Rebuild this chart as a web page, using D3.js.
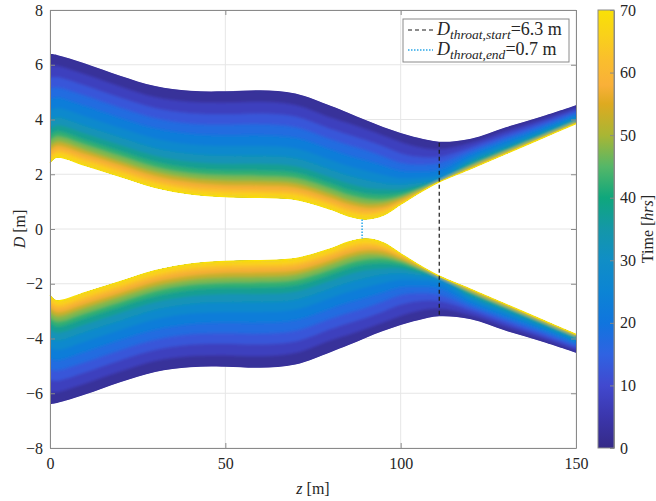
<!DOCTYPE html>
<html>
<head>
<meta charset="utf-8">
<script src="https://cdn.jsdelivr.net/npm/d3@7"></script>
<style>
  body { margin: 0; background: #fff; }
  text { font-family: "Liberation Serif", "Times New Roman", serif; fill: #262626; }
</style>
</head>
<body>
<div id="chart"></div>
<script>
// axial positions (m) where the profiles were read
var zNodes = [0, 2, 10, 20, 30, 40, 50, 60, 70, 80, 85, 90, 95, 100, 105, 111, 120, 130, 140, 150];

// time of each profile (hrs)
var times = [0, 5, 10, 15, 20, 25, 30, 35, 40, 45, 50, 55, 60, 65, 70];

// upper wall D (m) for each time, read along zNodes
var d0  = [6.40, 6.36, 6.05, 5.60, 5.22, 5.05, 5.03, 5.07, 4.95, 4.50, 4.25, 3.98, 3.73, 3.51, 3.33, 3.19, 3.30, 3.72, 4.10, 4.52];
var d5  = [5.96, 5.95, 5.64, 5.20, 4.81, 4.64, 4.61, 4.64, 4.52, 4.06, 3.86, 3.64, 3.41, 3.17, 2.99, 2.90, 3.14, 3.57, 3.98, 4.42];
var d10 = [5.52, 5.54, 5.23, 4.79, 4.41, 4.22, 4.18, 4.21, 4.10, 3.65, 3.44, 3.24, 3.01, 2.76, 2.63, 2.63, 2.98, 3.44, 3.87, 4.33];
var d15 = [5.13, 5.16, 4.86, 4.42, 4.04, 3.84, 3.80, 3.82, 3.71, 3.27, 3.06, 2.87, 2.64, 2.41, 2.34, 2.40, 2.85, 3.32, 3.77, 4.25];
var d20 = [4.73, 4.79, 4.48, 4.05, 3.67, 3.47, 3.41, 3.42, 3.32, 2.90, 2.68, 2.50, 2.31, 2.12, 2.09, 2.16, 2.73, 3.22, 3.68, 4.17];
var d25 = [4.33, 4.42, 4.11, 3.69, 3.30, 3.09, 3.03, 3.03, 2.94, 2.52, 2.30, 2.13, 1.97, 1.85, 1.86, 1.96, 2.61, 3.11, 3.60, 4.10];
var d30 = [3.97, 4.08, 3.77, 3.36, 2.96, 2.75, 2.68, 2.68, 2.59, 2.18, 1.96, 1.80, 1.67, 1.63, 1.70, 1.82, 2.50, 3.01, 3.52, 4.03];
var d35 = [3.65, 3.78, 3.48, 3.06, 2.67, 2.45, 2.37, 2.37, 2.28, 1.88, 1.66, 1.50, 1.44, 1.44, 1.57, 1.78, 2.41, 2.93, 3.45, 3.98];
var d40 = [3.42, 3.56, 3.25, 2.84, 2.45, 2.22, 2.14, 2.13, 2.05, 1.66, 1.43, 1.28, 1.24, 1.31, 1.49, 1.75, 2.34, 2.88, 3.40, 3.94];
var d45 = [3.22, 3.37, 3.07, 2.66, 2.26, 2.03, 1.95, 1.93, 1.85, 1.47, 1.24, 1.10, 1.07, 1.20, 1.43, 1.73, 2.30, 2.84, 3.37, 3.91];
var d50 = [3.02, 3.18, 2.88, 2.47, 2.08, 1.85, 1.76, 1.74, 1.66, 1.28, 1.05, 0.91, 0.94, 1.12, 1.38, 1.73, 2.27, 2.81, 3.35, 3.89];
var d55 = [2.86, 3.03, 2.73, 2.33, 1.93, 1.70, 1.60, 1.58, 1.51, 1.13, 0.90, 0.77, 0.80, 1.04, 1.35, 1.73, 2.24, 2.79, 3.33, 3.88];
var d60 = [2.70, 2.88, 2.58, 2.18, 1.78, 1.54, 1.45, 1.42, 1.35, 0.98, 0.75, 0.62, 0.70, 0.98, 1.32, 1.72, 2.22, 2.77, 3.32, 3.86];
var d65 = [2.56, 2.75, 2.45, 2.05, 1.65, 1.41, 1.31, 1.29, 1.22, 0.85, 0.61, 0.49, 0.60, 0.94, 1.31, 1.72, 2.21, 2.76, 3.31, 3.86];
var d70 = [2.42, 2.62, 2.32, 1.92, 1.52, 1.28, 1.18, 1.15, 1.08, 0.72, 0.48, 0.36, 0.50, 0.90, 1.30, 1.72, 2.20, 2.75, 3.30, 3.85];

var profiles = [d0, d5, d10, d15, d20, d25, d30, d35, d40, d45, d50, d55, d60, d65, d70];

// throat markers
var throatStartZ = 111, throatStartD = 6.3;
var throatEndZ = 89, throatEndD = 0.7;

var xTicks = [0, 50, 100, 150];
var yTicks = [-8, -6, -4, -2, 0, 2, 4, 6, 8];
var cTicks = [0, 10, 20, 30, 40, 50, 60, 70];

// colormap stops (time -> colour)
var cmapTimes  = [0, 5, 10, 15, 20, 25, 30, 35, 40, 45, 50, 55, 58, 62, 66, 70];
var cmapColors = ["#352a87", "#3b36ac", "#4149cf", "#2f63e2", "#1075de", "#0c84d4", "#108ec6",
                  "#1497a8", "#0fa77c", "#55b768", "#a9b634", "#deaa20", "#f9b039", "#fabe2d", "#f9d11a", "#f9e106"];

var svgWidth = 656;
var svgHeight = 501;
var margin = { top: 10, left: 50 };
var width = 526;
var height = 438;

var svg = d3.select("#chart")
  .append("svg")
  .attr("width", svgWidth)
  .attr("height", svgHeight);

var defs = svg.append("defs");

var chartGroup = svg.append("g")
  .attr("transform", `translate(${margin.left}, ${margin.top})`);

var xScale = d3.scaleLinear().domain([0, 150]).range([0, width]);
var yScale = d3.scaleLinear().domain([-8, 8]).range([height, 0]);
var color = d3.scaleLinear().domain(cmapTimes).range(cmapColors);
var curve = d3.curveCatmullRom.alpha(0.5);

// grid
chartGroup.selectAll(".gx").data(xTicks).enter().append("line")
  .attr("x1", d => xScale(d)).attr("x2", d => xScale(d))
  .attr("y1", 0).attr("y2", height)
  .attr("stroke", "#e6e6e6").attr("stroke-width", 1);
chartGroup.selectAll(".gy").data(yTicks).enter().append("line")
  .attr("x1", 0).attr("x2", width)
  .attr("y1", d => yScale(d)).attr("y2", d => yScale(d))
  .attr("stroke", "#e6e6e6").attr("stroke-width", 1);

// bands: each profile filled down to the last one, later times on top
var last = profiles[profiles.length - 1];
var idx = d3.range(zNodes.length);

function band(p, sign) {
  return d3.area()
    .curve(curve)
    .x(i => xScale(zNodes[i]))
    .y0(i => yScale(sign * last[i]))
    .y1(i => yScale(sign * p[i]))(idx);
}

// clip to the envelope so that the softened copy keeps crisp walls
var clip = defs.append("clipPath").attr("id", "env");
[1, -1].forEach(function(s) {
  clip.append("path").attr("d", band(profiles[0], s));
});
defs.append("filter").attr("id", "soft")
  .attr("x", "-5%").attr("y", "-20%").attr("width", "110%").attr("height", "140%")
  .append("feGaussianBlur").attr("stdDeviation", "0.8 1.7");

var bandsGroup = chartGroup.append("g").attr("clip-path", "url(#env)");

function drawBands(g) {
  profiles.slice(0, -1).forEach(function(p, k) {
    var c = color(times[k] + 2.5);
    [1, -1].forEach(function(s) {
      g.append("path")
        .attr("d", band(p, s))
        .attr("fill", c)
        .attr("stroke", c)
        .attr("stroke-width", 0.4);
    });
  });
}
drawBands(bandsGroup.append("g"));
drawBands(bandsGroup.append("g").attr("filter", "url(#soft)"));

// thin final profile edge
[1, -1].forEach(function(s) {
  chartGroup.append("path")
    .attr("d", d3.line().curve(curve)
      .x(i => xScale(zNodes[i])).y(i => yScale(s * last[i]))(idx))
    .attr("fill", "none")
    .attr("stroke", color(70))
    .attr("stroke-width", 1.2);
});

// throat lines
chartGroup.append("line")
  .attr("x1", xScale(throatStartZ)).attr("x2", xScale(throatStartZ))
  .attr("y1", yScale(throatStartD / 2)).attr("y2", yScale(-throatStartD / 2))
  .attr("stroke", "#1a1a1a").attr("stroke-width", 1.2).attr("stroke-dasharray", "4,3");
chartGroup.append("line")
  .attr("x1", xScale(throatEndZ)).attr("x2", xScale(throatEndZ))
  .attr("y1", yScale(throatEndD / 2)).attr("y2", yScale(-throatEndD / 2))
  .attr("stroke", "#2aa7e8").attr("stroke-width", 1.5).attr("stroke-dasharray", "1.5,1.5");

// axes (ticks inside, box on)
function styleAxis(g) {
  g.select(".domain").attr("stroke", "#8a8a8a");
  g.selectAll(".tick line").attr("stroke", "#8a8a8a");
  g.selectAll("text").attr("font-size", 16).attr("fill", "#262626")
    .attr("font-family", "Liberation Serif, serif");
}

chartGroup.append("g")
  .attr("transform", `translate(0, ${height})`)
  .call(d3.axisBottom(xScale).tickValues(xTicks).tickSizeInner(-5).tickSizeOuter(0).tickPadding(10))
  .call(styleAxis);
chartGroup.append("g")
  .call(d3.axisTop(xScale).tickValues(xTicks).tickSizeInner(-5).tickSizeOuter(0).tickFormat(""))
  .call(styleAxis);
chartGroup.append("g")
  .call(d3.axisLeft(yScale).tickValues(yTicks).tickSizeInner(-5).tickSizeOuter(0).tickPadding(7))
  .call(styleAxis);
chartGroup.append("g")
  .attr("transform", `translate(${width}, 0)`)
  .call(d3.axisRight(yScale).tickValues(yTicks).tickSizeInner(-5).tickSizeOuter(0).tickFormat(""))
  .call(styleAxis);

// axis labels
var xl = svg.append("text")
  .attr("x", margin.left + width / 2).attr("y", 494)
  .attr("text-anchor", "middle").attr("font-size", 16);
xl.append("tspan").attr("font-style", "italic").text("z");
xl.append("tspan").text(" [m]");

var yl = svg.append("text")
  .attr("transform", `translate(25, ${margin.top + height / 2}) rotate(-90)`)
  .attr("text-anchor", "middle").attr("font-size", 16);
yl.append("tspan").attr("font-style", "italic").text("D");
yl.append("tspan").text(" [m]");

// legend
var lg = svg.append("g");
lg.append("rect")
  .attr("x", 403).attr("y", 19).attr("width", 166).attr("height", 43)
  .attr("fill", "#fff").attr("stroke", "#8a8a8a").attr("stroke-width", 1);
lg.append("line").attr("x1", 408).attr("x2", 433).attr("y1", 30).attr("y2", 30)
  .attr("stroke", "#1a1a1a").attr("stroke-width", 1.2).attr("stroke-dasharray", "4,3");
lg.append("line").attr("x1", 408).attr("x2", 433).attr("y1", 50).attr("y2", 50)
  .attr("stroke", "#2aa7e8").attr("stroke-width", 1.5).attr("stroke-dasharray", "1.5,1.5");

function legendText(y, sub, val) {
  var t = lg.append("text").attr("x", 437).attr("y", y).attr("font-size", 18);
  t.append("tspan").attr("font-style", "italic").text("D");
  t.append("tspan").attr("font-style", "italic").attr("font-size", 13.5).attr("dy", 4).text(sub);
  t.append("tspan").attr("dy", -4).text(val);
}
legendText(35, "throat,start", "=" + throatStartD + " m");
legendText(55, "throat,end", "=" + throatEndD + " m");

// colorbar
var cbX = 598, cbW = 16;
var cScale = d3.scaleLinear().domain([0, 70]).range([margin.top + height, margin.top]);
var grad = defs.append("linearGradient")
  .attr("id", "cbar").attr("x1", 0).attr("y1", 1).attr("x2", 0).attr("y2", 0);
grad.selectAll("stop").data(cmapTimes).enter().append("stop")
  .attr("offset", d => d / 70)
  .attr("stop-color", d => color(d));
svg.append("rect")
  .attr("x", cbX).attr("y", margin.top).attr("width", cbW).attr("height", height)
  .attr("fill", "url(#cbar)");
svg.append("g")
  .attr("transform", `translate(${cbX + cbW}, 0)`)
  .call(d3.axisRight(cScale).tickValues(cTicks).tickSizeInner(-4).tickSizeOuter(0).tickPadding(6))
  .call(styleAxis);
svg.append("rect")
  .attr("x", cbX).attr("y", margin.top).attr("width", cbW).attr("height", height)
  .attr("fill", "none").attr("stroke", "#8a8a8a");

var cl = svg.append("text")
  .attr("transform", `translate(653, ${margin.top + height / 2}) rotate(-90)`)
  .attr("text-anchor", "middle").attr("font-size", 16);
cl.append("tspan").text("Time [");
cl.append("tspan").attr("font-style", "italic").text("hrs");
cl.append("tspan").text("]");
</script>
</body>
</html>
